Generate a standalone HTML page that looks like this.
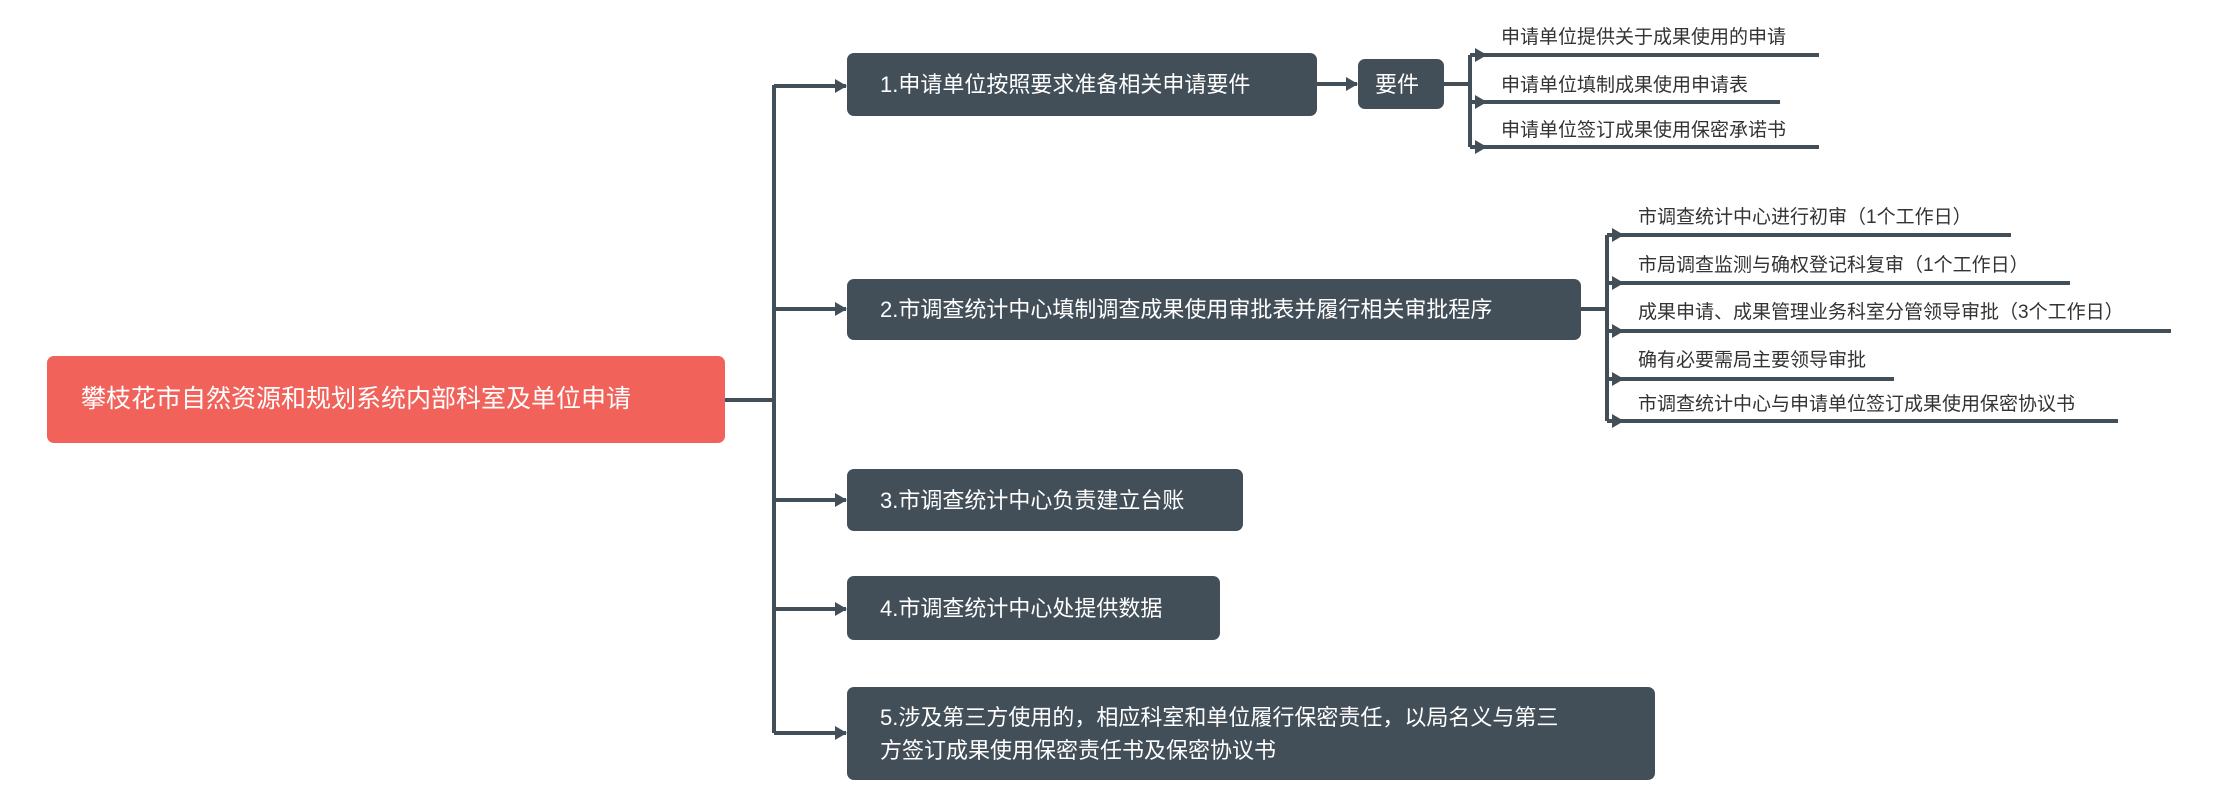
<!DOCTYPE html>
<html><head><meta charset="utf-8"><style>
body{margin:0;width:2220px;height:800px;background:#fff;position:relative;overflow:hidden;font-family:"Liberation Sans","Noto Sans CJK SC",sans-serif}
.n{position:absolute;background:#434f58;color:#fff;border-radius:7px;font-size:22px;box-sizing:border-box;padding-left:33px;padding-right:40px;display:flex;align-items:center;line-height:33px;white-space:nowrap}
.t{position:absolute;font-size:19px;color:#333;white-space:nowrap}
svg{position:absolute;left:0;top:0}
</style></head><body>
<svg width="2220" height="800">
<defs><marker id="a" markerWidth="12" markerHeight="14" refX="11" refY="7" orient="auto" markerUnits="userSpaceOnUse"><path d="M0,0L12,7L0,14z" fill="#434f58"/></marker></defs>
<g stroke="#434f58" stroke-width="4" fill="none">
<line x1="725" y1="400" x2="774" y2="400"/>
<line x1="774" y1="85" x2="774" y2="733"/>
<line x1="774" y1="86" x2="846" y2="86" marker-end="url(#a)"/>
<line x1="774" y1="309" x2="846" y2="309" marker-end="url(#a)"/>
<line x1="774" y1="500" x2="846" y2="500" marker-end="url(#a)"/>
<line x1="774" y1="609" x2="846" y2="609" marker-end="url(#a)"/>
<line x1="774" y1="733" x2="846" y2="733" marker-end="url(#a)"/>
<line x1="1317" y1="84" x2="1357" y2="84" marker-end="url(#a)"/>
<line x1="1444" y1="84" x2="1470" y2="84"/>
<line x1="1470" y1="55" x2="1470" y2="147"/>
<line x1="1470" y1="55" x2="1486" y2="55" marker-end="url(#a)"/>
<line x1="1470" y1="102" x2="1486" y2="102" marker-end="url(#a)"/>
<line x1="1470" y1="147" x2="1486" y2="147" marker-end="url(#a)"/>
<line x1="1480" y1="55" x2="1819" y2="55"/>
<line x1="1480" y1="102" x2="1780" y2="102"/>
<line x1="1480" y1="147" x2="1819" y2="147"/>
<line x1="1581" y1="309" x2="1607" y2="309"/>
<line x1="1607" y1="235" x2="1607" y2="421"/>
<line x1="1607" y1="235" x2="1623" y2="235" marker-end="url(#a)"/>
<line x1="1607" y1="283" x2="1623" y2="283" marker-end="url(#a)"/>
<line x1="1607" y1="331" x2="1623" y2="331" marker-end="url(#a)"/>
<line x1="1607" y1="379" x2="1623" y2="379" marker-end="url(#a)"/>
<line x1="1607" y1="421" x2="1623" y2="421" marker-end="url(#a)"/>
<line x1="1618" y1="235" x2="2011" y2="235"/>
<line x1="1618" y1="283" x2="2070" y2="283"/>
<line x1="1618" y1="331" x2="2171" y2="331"/>
<line x1="1618" y1="379" x2="1894" y2="379"/>
<line x1="1618" y1="421" x2="2118" y2="421"/>
</g></svg>
<div class="n" style="left:47px;top:356px;width:678px;height:87px;background:#f0625a;font-size:25px;padding-left:34px">攀枝花市自然资源和规划系统内部科室及单位申请</div>
<div class="n" style="left:847px;top:53px;width:470px;height:63px">1.申请单位按照要求准备相关申请要件</div>
<div class="n" style="left:1358px;top:59px;width:86px;height:50px;padding-left:17px;padding-right:0">要件</div>
<div class="n" style="left:847px;top:279px;width:734px;height:61px">2.市调查统计中心填制调查成果使用审批表并履行相关审批程序</div>
<div class="n" style="left:847px;top:469px;width:396px;height:62px">3.市调查统计中心负责建立台账</div>
<div class="n" style="left:847px;top:576px;width:373px;height:64px">4.市调查统计中心处提供数据</div>
<div class="n" style="left:847px;top:687px;width:808px;height:93px"><div>5.涉及第三方使用的，相应科室和单位履行保密责任，以局名义与第三<br>方签订成果使用保密责任书及保密协议书</div></div>
<div class="t" style="left:1501px;top:22px">申请单位提供关于成果使用的申请</div>
<div class="t" style="left:1501px;top:70px">申请单位填制成果使用申请表</div>
<div class="t" style="left:1501px;top:115px">申请单位签订成果使用保密承诺书</div>
<div class="t" style="left:1638px;top:202px">市调查统计中心进行初审（1个工作日）</div>
<div class="t" style="left:1638px;top:250px">市局调查监测与确权登记科复审（1个工作日）</div>
<div class="t" style="left:1638px;top:297px">成果申请、成果管理业务科室分管领导审批（3个工作日）</div>
<div class="t" style="left:1638px;top:345px">确有必要需局主要领导审批</div>
<div class="t" style="left:1638px;top:389px">市调查统计中心与申请单位签订成果使用保密协议书</div>
</body></html>
